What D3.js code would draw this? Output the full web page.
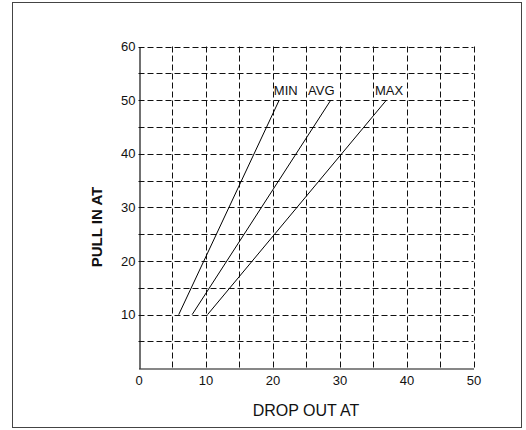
<!DOCTYPE html>
<html>
<head>
<meta charset="utf-8">
<script src="https://cdn.jsdelivr.net/npm/d3@7"></script>
<style>
  html, body { margin: 0; padding: 0; background: #fff; }
  svg { display: block; font-family: "Liberation Sans", Arial, sans-serif; }
</style>
</head>
<body>
<svg id="chart" width="526" height="430"></svg>
<script>
// ---- data ----
const seriesNames = ["MIN", "AVG", "MAX"];
const dropOutStart = [6, 8, 10.3];     // x at pull-in 10
const dropOutEnd = [21, 28.7, 37];     // x at pull-in 50
const pullInStart = [10, 10, 10];
const pullInEnd = [50, 50, 50];
const labelX = [20.2, 25.3, 35.3];
const labelY = [51, 51, 51];
const xTicks = [0, 10, 20, 30, 40, 50];
const yTicks = [10, 20, 30, 40, 50, 60];
const gridX = [5, 10, 15, 20, 25, 30, 35, 40, 45, 50];
const gridY = [5, 10, 15, 20, 25, 30, 35, 40, 45, 50, 55, 60];

const svg = d3.select("#chart");

// outer frame
svg.append("rect")
  .attr("x", 12.5).attr("y", 2.5)
  .attr("width", 509).attr("height", 425)
  .attr("fill", "none").attr("stroke", "#444").attr("stroke-width", 1);

const pLeft = 138.5, pRight = 473.5, pTop = 46.5, pBottom = 368.3;
const x = d3.scaleLinear().domain([0, 50]).range([pLeft, pRight]);
const y = d3.scaleLinear().domain([0, 60]).range([pBottom, pTop]);

// grid
const g = svg.append("g");
g.selectAll("line.gx").data(gridX).join("line")
  .attr("class", "gx")
  .attr("x1", d => Math.round(x(d)) + 0.5).attr("x2", d => Math.round(x(d)) + 0.5)
  .attr("y1", y(60)).attr("y2", y(0))
  .attr("stroke", "#111").attr("stroke-dasharray", "6,3");
g.selectAll("line.gy").data(gridY).join("line")
  .attr("class", "gy")
  .attr("y1", d => Math.round(y(d)) + 0.5).attr("y2", d => Math.round(y(d)) + 0.5)
  .attr("x1", x(0)).attr("x2", x(50))
  .attr("stroke", "#111").attr("stroke-dasharray", "6,3");

// axes
const xAxis = d3.axisBottom(x).tickValues(xTicks).tickSize(0).tickPadding(7);
const yAxis = d3.axisLeft(y).tickValues(yTicks).tickSize(0).tickPadding(4);
const xa = svg.append("g").attr("transform", `translate(0,${Math.round(pBottom) + 0.5})`).call(xAxis);
const ya = svg.append("g").attr("transform", `translate(${Math.round(pLeft) + 0.5},0)`).call(yAxis);
[xa, ya].forEach(a => {
  a.select(".domain").attr("stroke", "#111").attr("stroke-width", 1.2);
  a.selectAll("text").attr("font-size", 13).attr("fill", "#111")
    .attr("font-family", "'Liberation Sans', Arial, sans-serif");
});

// series lines
const series = seriesNames.map((n, i) => ({
  name: n,
  pts: [[dropOutStart[i], pullInStart[i]], [dropOutEnd[i], pullInEnd[i]]],
  lx: labelX[i], ly: labelY[i]
}));
const line = d3.line().x(d => x(d[0])).y(d => y(d[1]));
svg.selectAll("path.series").data(series).join("path")
  .attr("class", "series")
  .attr("d", d => line(d.pts))
  .attr("fill", "none").attr("stroke", "#000").attr("stroke-width", 1);

svg.selectAll("text.lbl").data(series).join("text")
  .attr("class", "lbl")
  .attr("x", d => x(d.lx)).attr("y", d => y(d.ly))
  .attr("font-size", 13).attr("fill", "#111")
  .text(d => d.name);

// axis titles
svg.append("text")
  .attr("x", 306).attr("y", 416)
  .attr("text-anchor", "middle")
  .attr("font-size", 16).attr("fill", "#111")
  .text("DROP OUT AT");

svg.append("text")
  .attr("transform", "translate(102,227) rotate(-90)")
  .attr("text-anchor", "middle")
  .attr("font-size", 15).attr("font-weight", "bold").attr("fill", "#111")
  .text("PULL IN AT");
</script>
</body>
</html>
